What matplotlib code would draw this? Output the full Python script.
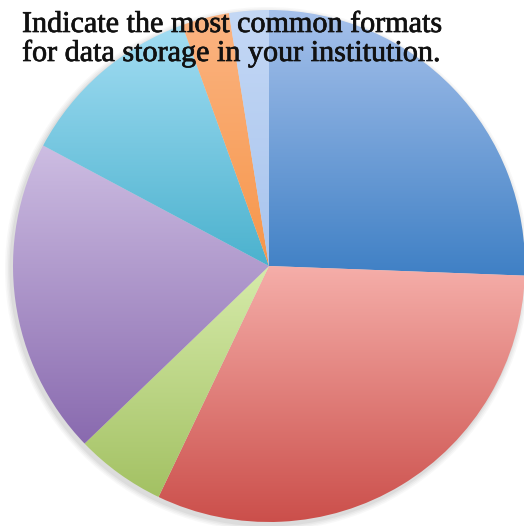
import numpy as np
import matplotlib.pyplot as plt
import matplotlib.patheffects as pe
from matplotlib.colors import LinearSegmentedColormap

# 数据（按图中角度估读，百分比）
shares = [25.6, 31.5, 5.7, 20.0, 11.7, 3.0, 2.5]
# 每块的上/下渐变色
top_colors = ['#A6C1EB', '#F5AEA9', '#D6EBAA', '#CDBDE2', '#A3DDF3', '#FBB482', '#C4D8F5']
bottom_colors = ['#3F80C5', '#CB4E4A', '#A3C163', '#896AAF', '#4BB2CE', '#F7964A', '#A8C4EE']
title_lines = ['Indicate the most common formats',
               'for data storage in your institution.']

W, H = 524, 526
fig = plt.figure(figsize=(W / 100, H / 100), dpi=100)
ax = fig.add_axes([0, 0, 1, 1])

cx, cy, r = 269, H - 266, 256

# 淡淡的阴影
for k, a in enumerate([0.04, 0.05, 0.06, 0.08]):
    sh = plt.Circle((cx - 2, cy - 3), r + 6 - k * 1.5, color='#606060', alpha=a, lw=0)
    ax.add_patch(sh)

wedges, _ = ax.pie(shares, startangle=90, counterclock=False, radius=r,
                   center=(cx, cy), frame=True,
                   wedgeprops=dict(linewidth=0, edgecolor='none'))

for w, c0, c1 in zip(wedges, top_colors, bottom_colors):
    w.set_facecolor('none')
    verts = w.get_path().vertices
    x0, x1 = verts[:, 0].min(), verts[:, 0].max()
    y0, y1 = verts[:, 1].min(), verts[:, 1].max()
    cmap = LinearSegmentedColormap.from_list('g', [c1, c0])
    grad = np.linspace(0, 1, 256).reshape(-1, 1)
    im = ax.imshow(grad, cmap=cmap, origin='lower', aspect='auto',
                   extent=(x0, x1, y0, y1), zorder=2)
    im.set_clip_path(w)

ax.set_xlim(0, W)
ax.set_ylim(0, H)
ax.set_aspect('equal')
ax.axis('off')

# 标题两行，按基线放置
for line, base in zip(title_lines, [32, 61]):
    t = fig.text(22 / W, 1 - base / H, line, ha='left', va='baseline',
                 fontsize=21.7, family='Liberation Serif', color='#111111', zorder=5)
    t.set_path_effects([pe.withStroke(linewidth=0.5, foreground='#111111')])

fig.savefig('out.png', dpi=100, facecolor='white')
